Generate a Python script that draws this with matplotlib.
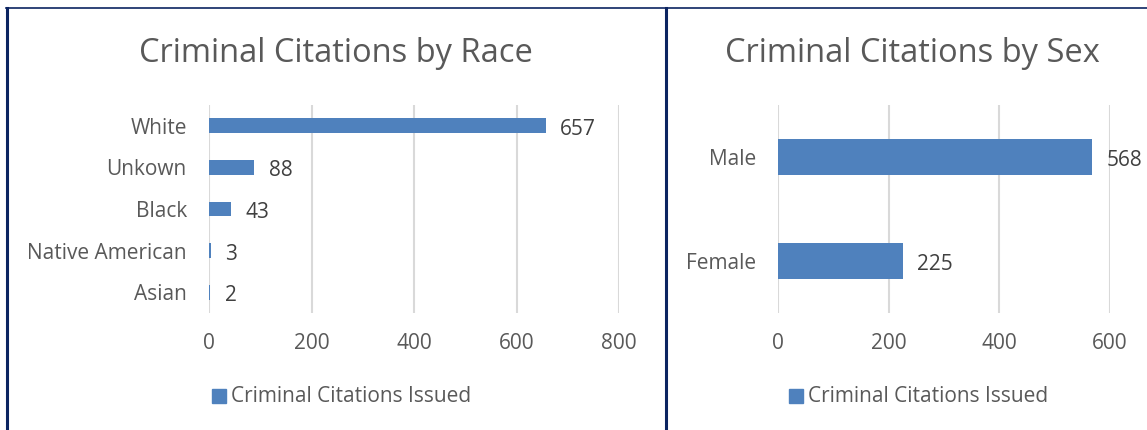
import matplotlib.pyplot as plt
from matplotlib.lines import Line2D
from matplotlib.patches import Rectangle

# Data ###############################################
race_labels = ['White', 'Unkown', 'Black', 'Native American', 'Asian']
race_counts = [657, 88, 43, 3, 2]
race_ticks = [0, 200, 400, 600, 800]

sex_labels = ['Male', 'Female']
sex_counts = [568, 225]
sex_ticks = [0, 200, 400, 600]

series_name = 'Criminal Citations Issued'

bar_color = '#4f81bd'
grid_color = '#d9d9d9'
text_color = '#595959'
label_color = '#404040'
border_color = '#0c2461'
font = 'Open Sans'

W, H = 1147, 430
fig = plt.figure(figsize=(W / 100, H / 100), dpi=100)
fig.patch.set_facecolor('white')


def px_axes(x0, x1, ytop, ybot):
    return fig.add_axes([x0 / W, 1 - ybot / H, (x1 - x0) / W, (ybot - ytop) / H])


def draw_panel(ax, labels, counts, ticks, xmax, bar_h, title, title_x, legend_x):
    pos = list(range(len(labels)))
    ax.barh(pos, counts, height=bar_h, color=bar_color, zorder=3)
    ax.set_ylim(len(labels) - 0.5, -0.5)
    ax.set_xlim(0, xmax)
    ax.set_yticks(pos)
    ax.set_yticklabels(labels)
    ax.set_xticks(ticks)
    ax.grid(axis='x', color=grid_color, linewidth=1.5, zorder=0)
    for s in ax.spines.values():
        s.set_visible(False)
    ax.tick_params(length=0, labelsize=15, labelcolor=text_color)
    ax.tick_params(axis='x', pad=14.5)
    ax.tick_params(axis='y', pad=16)
    for lab in ax.get_xticklabels() + ax.get_yticklabels():
        lab.set_family(font)
    # value labels
    for p, v in zip(pos, counts):
        ax.annotate(str(v), (v, p), xytext=(10.5, -2.5), textcoords='offset points',
                    ha='left', va='center', fontsize=15, color=label_color,
                    family=font, clip_on=False, annotation_clip=False)
    fig.text(title_x / W, 1 - 54 / H, title, ha='center', va='center',
             fontsize=23.5, color=text_color, family=font)
    # legend
    fig.patches.append(Rectangle((legend_x / W, 1 - 403 / H), 14 / W, 14 / H,
                                 transform=fig.transFigure, color=bar_color))
    fig.text((legend_x + 19) / W, 1 - 397 / H, series_name, ha='left', va='center',
             fontsize=15, color=text_color, family=font)


ax1 = px_axes(209, 619, 105, 313)
draw_panel(ax1, race_labels, race_counts, race_ticks, 800, 0.36,
           'Criminal Citations by Race', 336, 212)

ax2 = px_axes(778, 1110, 105, 313)
draw_panel(ax2, sex_labels, sex_counts, sex_ticks, 600, 0.35,
           'Criminal Citations by Sex', 912, 789)

# Chart borders ######################################
fig.lines.append(Line2D([6 / W, 1], [1 - 7.5 / H, 1 - 7.5 / H], transform=fig.transFigure,
                        color=border_color, linewidth=1.2))
fig.lines.append(Line2D([7.5 / W, 7.5 / W], [0, 1 - 7.5 / H], transform=fig.transFigure,
                        color=border_color, linewidth=2.2))
fig.lines.append(Line2D([666 / W, 666 / W], [0, 1 - 7.5 / H], transform=fig.transFigure,
                        color=border_color, linewidth=2.2))

plt.savefig('out.png', dpi=100, facecolor='white')
